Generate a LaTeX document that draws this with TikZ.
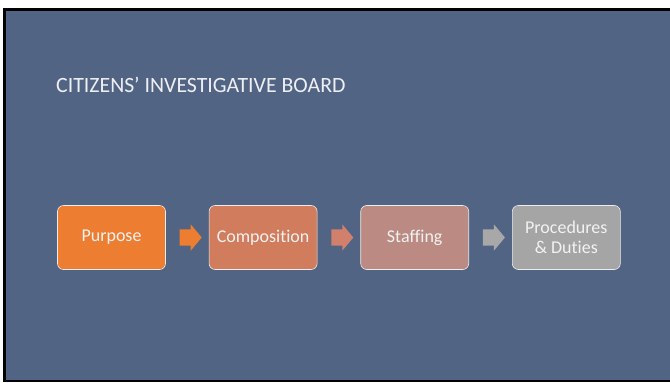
\documentclass[tikz,border=0pt]{standalone}
\usepackage{fontspec}
\setmainfont[Ligatures=NoCommon]{Carlito}
\usetikzlibrary{positioning,shapes.arrows}
\definecolor{slate}{HTML}{516483}
\definecolor{c1}{HTML}{ED7D31}
\definecolor{c2}{HTML}{D27C5E}
\definecolor{c3}{HTML}{BB8A82}
\definecolor{c4}{HTML}{A5A5A5}
\definecolor{a2}{HTML}{D0806C}
\definecolor{a4}{HTML}{A8A8A8}
\definecolor{txt}{HTML}{F2F2F2}

\begin{document}
\begin{tikzpicture}[x=1bp,y=-1bp]
	\tikzset{stepbox/.style={draw=white!85!gray, line width=.6bp, rounded corners=6bp,
			minimum width=108bp, minimum height=64bp, inner sep=2bp,
			align=center, text=txt, font=\fontsize{18bp}{20bp}\selectfont},
		flow/.style={single arrow, draw=none, single arrow head extend=5bp,
			single arrow tip angle=100, minimum height=22bp,
			inner xsep=0pt, inner ysep=8bp},
	}
	\useasboundingbox (0,0) rectangle (670,382);
	% frame
	\fill[white] (0,0) rectangle (670,382);
	\fill[black] (3,8) rectangle (670,382);
	\fill[slate] (6,10.5) rectangle (670,380);
	\node [anchor=base west, text=white!90!slate, inner sep=0pt, font=\fontsize{21.8bp}{24bp}\selectfont]
		(title) at (56,92.3) {CITIZENS’ INVESTIGATIVE BOARD};
	% process steps
	\node [stepbox, fill=c1] (purpose) at (111.5,237.5) {Purpose};
	\node [stepbox, fill=c2, right = 43bp of purpose] (comp) {Composition};
	\node [stepbox, fill=c3, right = 43bp of comp] (staff) {Staffing};
	\node [stepbox, fill=c4, right = 43bp of staff] (proc) {Procedures\\\& Duties};
	\path (purpose.east) -- node [flow, fill=c1] (arr1) {} (comp.west);
	\path (comp.east) -- node [flow, fill=a2] (arr2) {} (staff.west);
	\path (staff.east) -- node [flow, fill=a4] (arr3) {} (proc.west);
\end{tikzpicture}
\end{document}
